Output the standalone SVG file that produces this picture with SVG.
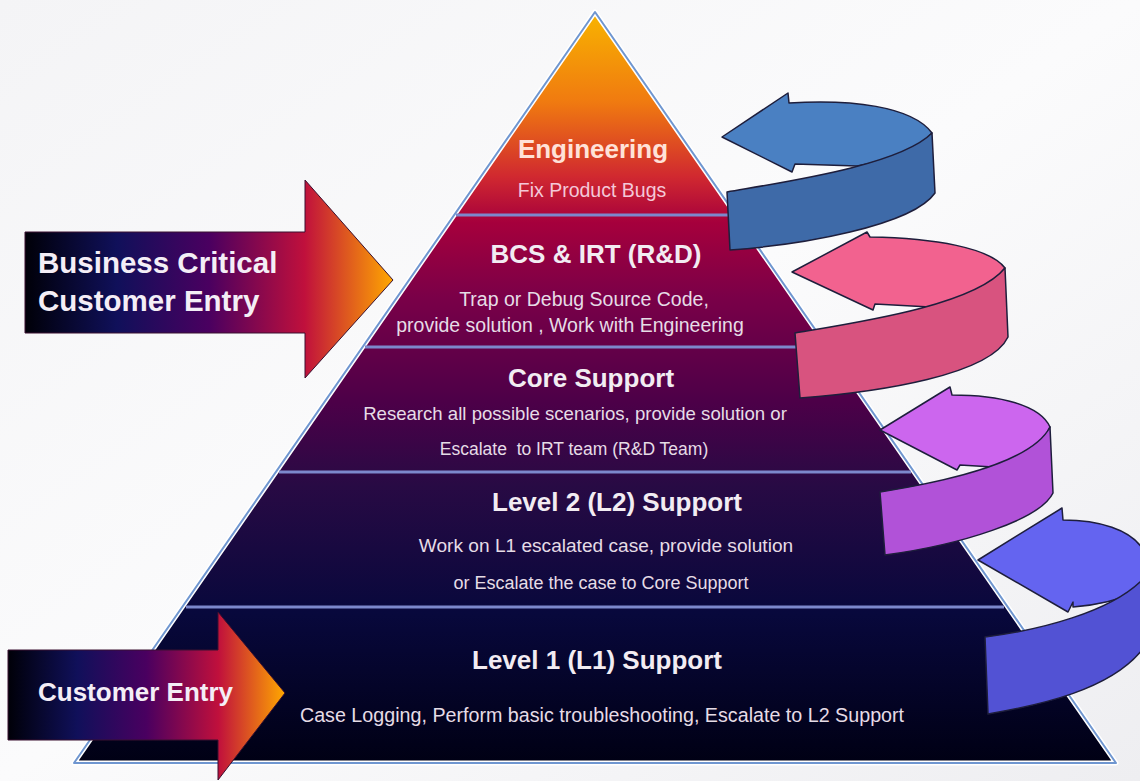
<svg xmlns="http://www.w3.org/2000/svg" width="1140" height="781" viewBox="0 0 1140 781">
<defs>
<linearGradient id="bg" x1="0" y1="0" x2="1" y2="1">
<stop offset="0" stop-color="#f4f4f6"/>
<stop offset="0.5" stop-color="#fbfbfc"/>
<stop offset="1" stop-color="#eeeef1"/>
</linearGradient>
<linearGradient id="pyr" gradientUnits="userSpaceOnUse" x1="0" y1="12" x2="0" y2="763">
<stop offset="0" stop-color="#f8b400"/>
<stop offset="0.12" stop-color="#f07a10"/>
<stop offset="0.22" stop-color="#d02830"/>
<stop offset="0.28" stop-color="#a6003c"/>
<stop offset="0.38" stop-color="#7a0048"/>
<stop offset="0.52" stop-color="#4c0048"/>
<stop offset="0.63" stop-color="#280a44"/>
<stop offset="0.8" stop-color="#08083c"/>
<stop offset="1" stop-color="#000014"/>
</linearGradient>
<linearGradient id="arr1" gradientUnits="userSpaceOnUse" x1="25" y1="0" x2="393" y2="0">
<stop offset="0" stop-color="#000008"/>
<stop offset="0.25" stop-color="#10105a"/>
<stop offset="0.5" stop-color="#4a0060"/>
<stop offset="0.76" stop-color="#c0103c"/>
<stop offset="1" stop-color="#ffa800"/>
</linearGradient>
<linearGradient id="arr2" gradientUnits="userSpaceOnUse" x1="8" y1="0" x2="285" y2="0">
<stop offset="0" stop-color="#000008"/>
<stop offset="0.25" stop-color="#10105a"/>
<stop offset="0.5" stop-color="#4a0060"/>
<stop offset="0.76" stop-color="#c0103c"/>
<stop offset="1" stop-color="#ffa800"/>
</linearGradient>
</defs>
<style>
.h{font-family:"Liberation Sans",Arial,sans-serif;font-weight:bold;font-size:26px;fill:#f2ecf2;text-anchor:middle}
.s{font-family:"Liberation Sans",Arial,sans-serif;font-size:19.5px;fill:#e6dce6;text-anchor:middle}
.l{font-family:"Liberation Sans",Arial,sans-serif;font-weight:bold;font-size:29.5px;fill:#f4eef6}
.div{stroke:#7c88cc;stroke-width:3}
.rib{stroke:#1e1e3c;stroke-width:1.5;stroke-linejoin:round}
</style>
<rect width="1140" height="781" fill="url(#bg)"/>
<g id="pyramid">
<polygon points="595,12 1116,763 74,763" fill="url(#pyr)" stroke="#ffffff" stroke-width="5" stroke-linejoin="round"/>
<polygon points="595,12 1116,763 74,763" fill="none" stroke="#6f96d0" stroke-width="2" stroke-linejoin="round"/>
<line class="div" x1="456" y1="215" x2="734" y2="215"/>
<line class="div" x1="365" y1="347" x2="825" y2="347"/>
<line class="div" x1="279" y1="472" x2="911" y2="472"/>
<line class="div" x1="186" y1="607" x2="1004" y2="607"/>
</g>
<g id="engineering">
<text class="h" x="593" y="158" style="fill:#ffe2d8">Engineering</text>
<text class="s" x="592" y="197" style="fill:#f4c8d8">Fix Product Bugs</text>
</g>
<g id="bcs">
<text class="h" x="596" y="263">BCS &amp; IRT (R&amp;D)</text>
<text class="s" x="584" y="306">Trap or Debug Source Code,</text>
<text class="s" x="570" y="332">provide solution , Work with Engineering</text>
</g>
<g id="core">
<text class="h" x="591" y="387">Core Support</text>
<text class="s" x="575" y="420" style="font-size:18.6px">Research all possible scenarios, provide solution or</text>
<text class="s" x="574" y="455" style="font-size:17.5px;white-space:pre">Escalate  to IRT team (R&amp;D Team)</text>
</g>
<g id="l2">
<text class="h" x="617" y="511">Level 2 (L2) Support</text>
<text class="s" x="606" y="552" style="font-size:19.1px">Work on L1 escalated case, provide solution</text>
<text class="s" x="601" y="589" style="font-size:18px">or Escalate the case to Core Support</text>
</g>
<g id="l1">
<text class="h" x="597" y="669">Level 1 (L1) Support</text>
<text class="s" x="602" y="722" style="font-size:19.7px">Case Logging, Perform basic troubleshooting, Escalate to L2 Support</text>
</g>
<g id="bc-entry">
<polygon points="25,232 305,232 305,180 393,280 305,378 305,333 25,333" fill="url(#arr1)" stroke="#3a1030" stroke-width="1"/>
<text class="l" x="38" y="273">Business Critical</text>
<text class="l" x="38" y="311">Customer Entry</text>
</g>
<g id="cust-entry">
<polygon points="8,650 218,650 218,612 285,693 218,780 218,740 8,740" fill="url(#arr2)" stroke="#3a1030" stroke-width="1"/>
<text class="l" x="38" y="701" style="font-size:26px">Customer Entry</text>
</g>
<g id="loops">
<g id="loop-blue">
<path class="rib" fill="#4a80c2" d="M722,137 L788,93 L789,103 C850,99 912,106 932,133 C918,150 890,160 857,166 L795,164 L792,172 Z"/>
<path class="rib" fill="#3e6aa8" d="M727,192 C790,181 900,165 932,133 L935,193 C912,226 800,245 730,250 Z"/>
</g>
<g id="loop-pink">
<path class="rib" fill="#f2628f" d="M792,272 L867,232 L870,237 C935,238 990,248 1005,268 C990,288 960,300 930,307 L875,304 L873,310 Z"/>
<path class="rib" fill="#d8537f" d="M795,333 C860,322 975,305 1005,268 L1008,337 C990,375 880,392 800,398 Z"/>
</g>
<g id="loop-purple">
<path class="rib" fill="#cc66ee" d="M880,430 L950,387 L952,395 C1000,395 1040,405 1050,427 C1040,450 1020,460 993,467 L960,465 L957,470 Z"/>
<path class="rib" fill="#b152d8" d="M880,492 C930,484 1030,466 1050,427 L1053,493 C1040,520 960,545 885,555 Z"/>
</g>
<g id="loop-indigo">
<path class="rib" fill="#6464f0" d="M978,560 L1062,508 L1063,520 C1100,520 1130,530 1142,548 L1142,590 C1120,600 1100,605 1073,607 L1073,602 L1068,612 Z"/>
<path class="rib" fill="#5252d4" d="M985,637 C1040,630 1110,612 1142,580 L1142,650 C1110,690 1040,705 988,714 Z"/>
</g>
</g>
</svg>
